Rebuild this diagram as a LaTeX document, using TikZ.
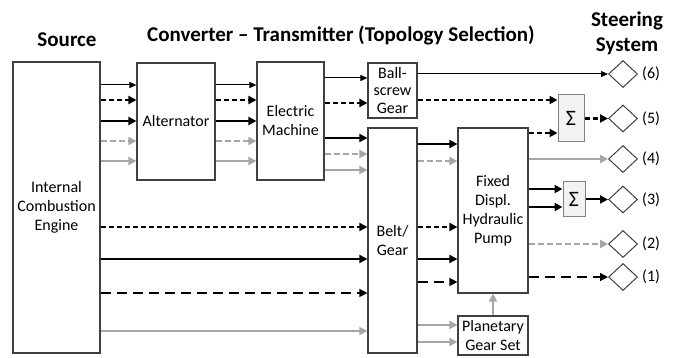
\documentclass[tikz,border=0pt]{standalone}
\usepackage{fontspec}
\setmainfont{Carlito}
\usetikzlibrary{arrows.meta,positioning,shapes.geometric}

\begin{document}
\begin{tikzpicture}[
  x=1pt, y=-1pt,
  box/.style={draw=black!75, line width=1.2pt, align=center, inner sep=1pt,
              font=\fontsize{16}{19}\selectfont},
  sumbox/.style={draw=black!50, line width=1pt, fill=black!5, inner sep=0pt,
              font=\fontsize{22}{22}\selectfont},
  port/.style={diamond, draw=black!75, line width=1pt, inner sep=0pt,
              minimum width=29pt, minimum height=27pt},
  ttl/.style={font=\fontsize{21}{25}\selectfont\bfseries, align=center},
  lbl/.style={font=\fontsize{16}{19}\selectfont, inner sep=1pt},
  arrtip/.style={-{Triangle[length=8pt,width=8pt]}},
  thn/.style={-{Triangle[length=7pt,width=6pt]}, line width=1pt},
  thk/.style={arrtip, line width=2pt},
  dsh/.style={arrtip, line width=2.2pt, dash pattern=on 5pt off 3pt},
  ldsh/.style={arrtip, line width=1.4pt, dash pattern=on 10pt off 6pt},
  gry/.style={arrtip, line width=2pt, color=black!35},
  gdsh/.style={gry, dash pattern=on 6pt off 3pt},
]
\useasboundingbox (0,0) rectangle (681,358);
% titles
\node[ttl] (srcT) at (67,40) {Source};
\node[ttl] (cvtT) at (341,35) {Converter -- Transmitter (Topology Selection)};
\node[ttl] (strT) at (627,33) {Steering\\System};
% blocks
\node[box, minimum width=87pt, minimum height=291pt] (ice) at (56.5,207.5) {Internal\\Combustion\\Engine};
\node[box, minimum width=78pt, minimum height=117pt] (alt) at (176,121.5) {Alternator};
\node[box, minimum width=67pt, minimum height=118pt] (em) at (290.5,121) {Electric\\Machine};
\node[box, minimum width=49pt, minimum height=55pt, inner sep=0pt,
      font=\fontsize{16}{17.5}\selectfont] (bsg) at (392.5,90.5) {Ball-\\screw\\Gear};
\node[box, minimum width=49pt, minimum height=225pt] (blt) at (392.5,240.5) {Belt/\\Gear};
\node[box, minimum width=70pt, minimum height=165pt] (pump) at (493,210.5) {Fixed\\Displ.\\Hydraulic\\Pump};
\node[box, minimum width=70pt, minimum height=39pt] (pgs) at (493,335.5) {Planetary\\Gear Set};
\node[sumbox, minimum width=26pt, minimum height=47pt] (sumA) at (571,118.5) {Σ};
\node[sumbox, minimum width=22pt, minimum height=35pt] (sumB) at (574,199.5) {Σ};
% steering ports
\node[port] (p6) at (623,74) {};
\node[port] (p5) at (623,118.5) {};
\node[port] (p4) at (623,159) {};
\node[port] (p3) at (623,199.5) {};
\node[port] (p2) at (623,244) {};
\node[port] (p1) at (623,277) {};
\node[lbl, right=3pt of p6] (l6) {(6)};
\node[lbl, right=3pt of p5] (l5) {(5)};
\node[lbl, right=3pt of p4] (l4) {(4)};
\node[lbl, right=3pt of p3] (l3) {(3)};
\node[lbl, right=3pt of p2] (l2) {(2)};
\node[lbl, right=3pt of p1] (l1) {(1)};
% source to alternator
\draw[thn] (ice.east |- 0,85) -- (alt.west |- 0,85);
\draw[dsh] (ice.east |- 0,100) -- (alt.west |- 0,100);
\draw[thk] (ice.east |- 0,121) -- (alt.west |- 0,121);
\draw[gdsh] (ice.east |- 0,141) -- (alt.west |- 0,141);
\draw[gry] (ice.east |- 0,161) -- (alt.west |- 0,161);
% alternator to electric machine
\draw[thn] (alt.east |- 0,85) -- (em.west |- 0,85);
\draw[dsh] (alt.east |- 0,100) -- (em.west |- 0,100);
\draw[thk] (alt.east |- 0,121) -- (em.west |- 0,121);
\draw[gdsh] (alt.east |- 0,141) -- (em.west |- 0,141);
\draw[gry] (alt.east |- 0,161) -- (em.west |- 0,161);
% electric machine outputs
\draw[thn] (em.east |- 0,78) -- (bsg.west |- 0,78);
\draw[dsh] (em.east |- 0,103) -- (bsg.west |- 0,103);
\draw[thk] (em.east |- 0,138) -- (blt.west |- 0,138);
\draw[gdsh] (em.east |- 0,154) -- (blt.west |- 0,154);
\draw[gry] (em.east |- 0,170) -- (blt.west |- 0,170);
% source to belt
\draw[dsh] (ice.east |- 0,227) -- (blt.west |- 0,227);
\draw[thk] (ice.east |- 0,259) -- (blt.west |- 0,259);
\draw[ldsh] (ice.east |- 0,293) -- (blt.west |- 0,293);
\draw[gry] (ice.east |- 0,331) -- (blt.west |- 0,331);
% belt to pump and planetary gear
\draw[thk] (blt.east |- 0,144) -- (pump.west |- 0,144);
\draw[gdsh] (blt.east |- 0,161) -- (pump.west |- 0,161);
\draw[dsh] (blt.east |- 0,227) -- (pump.west |- 0,227);
\draw[thk] (blt.east |- 0,259) -- (pump.west |- 0,259);
\draw[ldsh] (blt.east |- 0,282) -- (pump.west |- 0,282);
\draw[gry] (blt.east |- 0,325) -- (pgs.west |- 0,325);
\draw[gry] (blt.east |- 0,342) -- (pgs.west |- 0,342);
\draw[gry] (pgs) -- (pump);
% outputs to steering
\draw[thn] (bsg.east |- p6) -- (p6);
\draw[dsh] (bsg.east |- 0,100) -- (sumA.west |- 0,100);
\draw[dsh] (pump.east |- 0,133) -- (sumA.west |- 0,133);
\draw[dsh] (sumA) -- (p5);
\draw[gry] (pump.east |- p4) -- (p4);
\draw[thk] (pump.east |- 0,189) -- (sumB.west |- 0,189);
\draw[thk] (pump.east |- 0,207) -- (sumB.west |- 0,207);
\draw[thk] (sumB) -- (p3);
\draw[gdsh] (pump.east |- p2) -- (p2);
\draw[ldsh] (pump.east |- p1) -- (p1);
\end{tikzpicture}
\end{document}
